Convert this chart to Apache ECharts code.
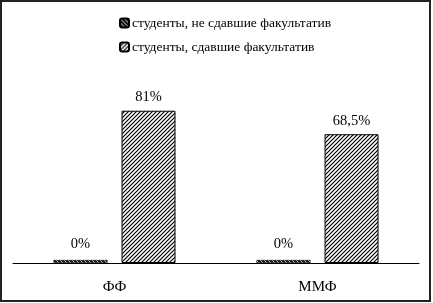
<!DOCTYPE html>
<html>
<head>
<meta charset="utf-8">
<script src="https://cdn.jsdelivr.net/npm/echarts@6/dist/echarts.min.js"></script>
<style>
  html, body { margin: 0; padding: 0; background: #fff; }
  #chart { position: absolute; left: 0; top: 0; width: 433px; height: 303px; }
  #frame { position: absolute; left: 0; top: 0; width: 431px; height: 302px;
           box-sizing: border-box; border: 2px solid #222; pointer-events: none; }
</style>
</head>
<body>
<div id="chart"></div>
<div id="frame"></div>
<script>
const categories = ['ФФ', 'ММФ'];
const seriesNames = ['студенты, не сдавшие факультатив', 'студенты, сдавшие факультатив'];
const notPassed = [0, 0];
const passed = [81, 68.5];

// штриховка "////" для сдавших
const makeHatch = () => {
  const c = document.createElement('canvas');
  c.width = 4; c.height = 4;
  const ctx = c.getContext('2d');
  ctx.fillStyle = '#fff';
  ctx.fillRect(0, 0, 4, 4);
  ctx.strokeStyle = '#000';
  ctx.lineWidth = 1.2;
  ctx.beginPath();
  ctx.moveTo(-1, 5); ctx.lineTo(5, -1);
  ctx.moveTo(-1, 1); ctx.lineTo(1, -1);
  ctx.moveTo(3, 5); ctx.lineTo(5, 3);
  ctx.stroke();
  return c;
};

// тёмная заливка с белыми штрихами для не сдавших
const makeDark = () => {
  const c = document.createElement('canvas');
  c.width = 4; c.height = 4;
  const ctx = c.getContext('2d');
  ctx.fillStyle = '#111';
  ctx.fillRect(0, 0, 4, 4);
  ctx.strokeStyle = '#fff';
  ctx.lineWidth = 0.8;
  ctx.beginPath();
  ctx.moveTo(-1, -1); ctx.lineTo(5, 5);
  ctx.stroke();
  return c;
};

const pct = p => String(p.value).replace('.', ',') + '%';
const serif = 'Liberation Serif';

const chart = echarts.init(document.getElementById('chart'));
chart.setOption({
  animation: false,
  textStyle: { fontFamily: serif, color: '#000' },
  legend: {
    orient: 'vertical',
    left: 114,
    top: 11,
    itemWidth: 9,
    itemHeight: 9,
    itemGap: 10,
    textStyle: { fontFamily: serif, fontSize: 13.5, color: '#000', padding: [0, 0, 0, -2] },
    data: seriesNames
  },
  grid: { left: 13, right: 14, top: 75, bottom: 40 },
  xAxis: {
    type: 'category',
    data: categories,
    axisLine: { lineStyle: { color: '#000', width: 1 } },
    axisTick: { show: false },
    axisLabel: { fontFamily: serif, fontSize: 15, color: '#000', margin: 17 }
  },
  yAxis: {
    type: 'value',
    min: 0,
    max: 100,
    show: false
  },
  series: [
    {
      name: seriesNames[0],
      type: 'bar',
      data: notPassed,
      barWidth: 54,
      barGap: '26%',
      barMinHeight: 3,
      itemStyle: { color: { image: makeDark(), repeat: 'repeat' }, borderColor: '#000', borderWidth: 0.5 },
      label: { show: true, position: 'top', distance: 8, formatter: pct,
               fontFamily: serif, fontSize: 14.5, color: '#000' }
    },
    {
      name: seriesNames[1],
      type: 'bar',
      data: passed,
      barWidth: 54,
      itemStyle: { color: { image: makeHatch(), repeat: 'repeat' }, borderColor: '#000', borderWidth: 1 },
      label: { show: true, position: 'top', distance: 6, formatter: pct,
               fontFamily: serif, fontSize: 14.5, color: '#000' }
    }
  ]
});
</script>
</body>
</html>
